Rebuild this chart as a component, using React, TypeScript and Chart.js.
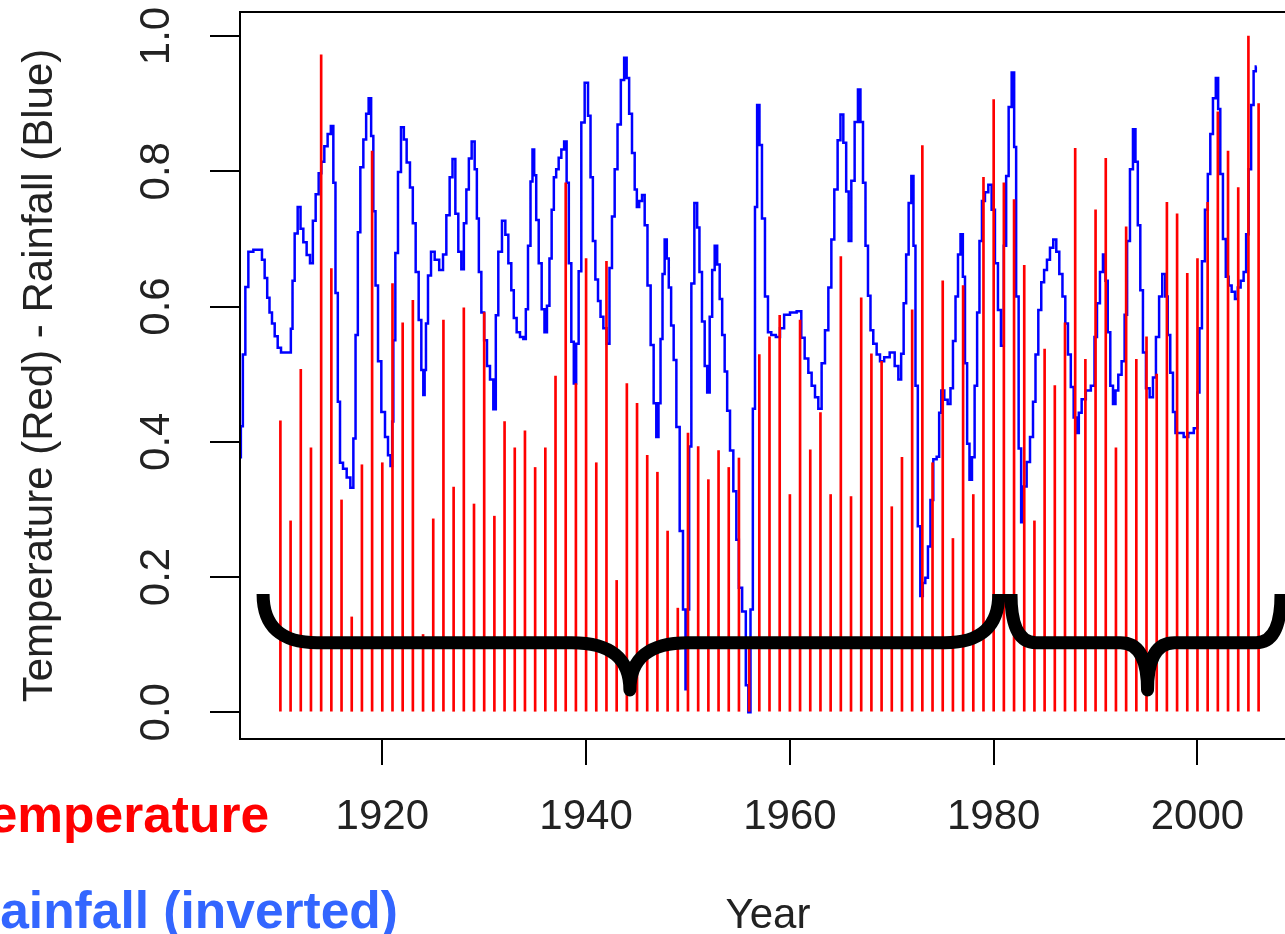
import React, { useEffect, useRef } from "react";
import { Chart, registerables } from "chart.js";

Chart.register(...registerables);

// ---------- data ----------
const barYears: number[] = [
  1910, 1911, 1912, 1913, 1914, 1915, 1916, 1917, 1918, 1919,
  1920, 1921, 1922, 1923, 1924, 1925, 1926, 1927, 1928, 1929,
  1930, 1931, 1932, 1933, 1934, 1935, 1936, 1937, 1938, 1939,
  1940, 1941, 1942, 1943, 1944, 1945, 1946, 1947, 1948, 1949,
  1950, 1951, 1952, 1953, 1954, 1955, 1956, 1957, 1958, 1959,
  1960, 1961, 1962, 1963, 1964, 1965, 1966, 1967, 1968, 1969,
  1970, 1971, 1972, 1973, 1974, 1975, 1976, 1977, 1978, 1979,
  1980, 1981, 1982, 1983, 1984, 1985, 1986, 1987, 1988, 1989,
  1990, 1991, 1992, 1993, 1994, 1995, 1996, 1997, 1998, 1999,
  2000, 2001, 2002, 2003, 2004, 2005, 2006,
];

const temperature: number[] = [
  0.431, 0.283, 0.507, 0.391, 0.972, 0.656, 0.314, 0.141, 0.366, 0.830,
  0.369, 0.634, 0.576, 0.609, 0.115, 0.286, 0.580, 0.333, 0.598, 0.308,
  0.591, 0.290, 0.430, 0.391, 0.416, 0.362, 0.391, 0.497, 0.783, 0.486,
  0.671, 0.369, 0.667, 0.195, 0.486, 0.457, 0.380, 0.355, 0.268, 0.154,
  0.413, 0.393, 0.344, 0.387, 0.362, 0.376, 0.100, 0.529, 0.555, 0.587,
  0.322, 0.580, 0.388, 0.443, 0.322, 0.674, 0.319, 0.613, 0.530, 0.519,
  0.304, 0.377, 0.595, 0.838, 0.369, 0.638, 0.257, 0.631, 0.322, 0.791,
  0.906, 0.783, 0.758, 0.661, 0.283, 0.537, 0.483, 0.576, 0.834, 0.522,
  0.743, 0.819, 0.391, 0.718, 0.522, 0.555, 0.500, 0.754, 0.737, 0.649,
  0.671, 0.754, 0.888, 0.830, 0.776, 1.000, 0.900,
];

const rainYears: number[] = [
  1906.04, 1906.20, 1906.43, 1906.69, 1907.02, 1907.67, 1908.06, 1908.32, 1908.59, 1908.82,
  1909.04, 1909.31, 1909.57, 1909.90, 1910.22, 1910.94, 1911.11, 1911.27, 1911.53, 1911.86,
  1912.09, 1912.41, 1912.74, 1913.07, 1913.30, 1913.62, 1913.89, 1914.15, 1914.47, 1914.80,
  1915.10, 1915.29, 1915.52, 1915.75, 1915.95, 1916.34, 1916.67, 1917.06, 1917.26, 1917.49,
  1917.71, 1917.98, 1918.30, 1918.53, 1918.79, 1919.02, 1919.22, 1919.45, 1919.71, 1920.10,
  1920.43, 1920.69, 1920.92, 1921.02, 1921.15, 1921.41, 1921.67, 1922.00, 1922.23, 1922.55,
  1922.88, 1923.11, 1923.44, 1923.70, 1923.96, 1924.09, 1924.22, 1924.35, 1924.62, 1924.94,
  1925.34, 1925.83, 1926.09, 1926.48, 1926.74, 1927.04, 1927.30, 1927.62, 1927.89, 1928.12,
  1928.38, 1928.61, 1928.93, 1929.20, 1929.36, 1929.59, 1929.85, 1930.14, 1930.41, 1930.73,
  1931.06, 1931.22, 1931.55, 1931.94, 1932.21, 1932.53, 1932.79, 1933.02, 1933.35, 1933.68,
  1934.00, 1934.17, 1934.43, 1934.66, 1934.82, 1934.99, 1935.22, 1935.48, 1935.80, 1936.03,
  1936.29, 1936.52, 1936.72, 1936.95, 1937.18, 1937.44, 1937.70, 1937.99, 1938.19, 1938.42,
  1938.68, 1938.91, 1939.14, 1939.40, 1939.66, 1940.06, 1940.32, 1940.55, 1940.78, 1941.04,
  1941.30, 1941.53, 1941.86, 1942.18, 1942.41, 1942.67, 1942.94, 1943.23, 1943.59, 1943.88,
  1944.08, 1944.37, 1944.64, 1944.90, 1945.06, 1945.36, 1945.62, 1945.88, 1946.17, 1946.50,
  1946.76, 1947.02, 1947.19, 1947.42, 1947.58, 1947.84, 1948.00, 1948.23, 1948.46, 1948.73,
  1948.99, 1949.38, 1949.64, 1949.87, 1950.03, 1950.20, 1950.46, 1950.79, 1951.01, 1951.24,
  1951.51, 1951.77, 1952.00, 1952.26, 1952.49, 1952.75, 1952.98, 1953.24, 1953.47, 1953.73,
  1953.96, 1954.29, 1954.61, 1954.88, 1955.10, 1955.53, 1955.82, 1956.02, 1956.25, 1956.48,
  1956.67, 1956.90, 1957.13, 1957.39, 1957.72, 1957.98, 1958.37, 1958.87, 1959.19, 1959.68,
  1960.34, 1960.99, 1961.25, 1961.65, 1961.97, 1962.30, 1962.63, 1962.95, 1963.28, 1963.61,
  1963.94, 1964.20, 1964.52, 1964.85, 1965.08, 1965.41, 1965.64, 1965.90, 1966.16, 1966.55,
  1966.81, 1967.04, 1967.31, 1967.53, 1967.80, 1968.02, 1968.35, 1968.68, 1969.01, 1969.50,
  1970.09, 1970.48, 1970.81, 1971.03, 1971.30, 1971.52, 1971.79, 1972.05, 1972.21, 1972.44,
  1972.67, 1972.93, 1973.16, 1973.42, 1973.68, 1973.91, 1974.24, 1974.57, 1974.73, 1974.99,
  1975.32, 1975.65, 1975.87, 1976.14, 1976.37, 1976.63, 1976.86, 1977.09, 1977.28, 1977.51,
  1977.74, 1978.00, 1978.26, 1978.49, 1978.72, 1978.98, 1979.31, 1979.64, 1979.96, 1980.29,
  1980.55, 1980.88, 1981.11, 1981.34, 1981.60, 1981.93, 1982.09, 1982.32, 1982.58, 1982.81,
  1983.07, 1983.40, 1983.73, 1983.99, 1984.22, 1984.54, 1984.80, 1985.10, 1985.36, 1985.69,
  1986.01, 1986.28, 1986.60, 1986.90, 1987.16, 1987.42, 1987.72, 1987.98, 1988.24, 1988.47,
  1988.80, 1989.29, 1989.78, 1990.01, 1990.27, 1990.59, 1990.86, 1991.08, 1991.31, 1991.58,
  1991.84, 1992.07, 1992.39, 1992.72, 1992.98, 1993.21, 1993.54, 1993.80, 1994.03, 1994.26,
  1994.52, 1994.78, 1995.11, 1995.50, 1995.76, 1996.09, 1996.38, 1996.71, 1996.97, 1997.20,
  1997.46, 1997.73, 1997.95, 1998.45, 1998.84, 1999.36, 1999.92, 2000.08, 2000.31, 2000.57,
  2000.90, 2001.13, 2001.39, 2001.65, 2001.95, 2002.11, 2002.37, 2002.63, 2002.93, 2003.19,
  2003.52, 2003.84, 2004.07, 2004.40, 2004.66, 2004.89, 2005.15, 2005.38, 2005.64, 2005.81,
];

const rainfallInverted: number[] = [
  0.377, 0.423, 0.529, 0.629, 0.681, 0.684, 0.684, 0.669, 0.642, 0.613,
  0.591, 0.575, 0.556, 0.539, 0.532, 0.532, 0.567, 0.638, 0.708, 0.747,
  0.715, 0.695, 0.676, 0.664, 0.727, 0.766, 0.797, 0.814, 0.837, 0.855,
  0.867, 0.783, 0.620, 0.459, 0.369, 0.360, 0.347, 0.332, 0.405, 0.558,
  0.710, 0.806, 0.847, 0.885, 0.908, 0.852, 0.741, 0.631, 0.519, 0.444,
  0.407, 0.380, 0.364, 0.430, 0.550, 0.679, 0.799, 0.865, 0.847, 0.813,
  0.776, 0.723, 0.651, 0.580, 0.506, 0.469, 0.506, 0.575, 0.646, 0.681,
  0.669, 0.654, 0.677, 0.735, 0.791, 0.818, 0.737, 0.681, 0.655, 0.723,
  0.773, 0.819, 0.844, 0.803, 0.730, 0.651, 0.591, 0.550, 0.512, 0.492,
  0.448, 0.587, 0.681, 0.727, 0.706, 0.664, 0.624, 0.583, 0.562, 0.555,
  0.552, 0.596, 0.690, 0.785, 0.832, 0.794, 0.728, 0.664, 0.596, 0.562,
  0.601, 0.671, 0.743, 0.791, 0.803, 0.820, 0.832, 0.844, 0.783, 0.664,
  0.548, 0.486, 0.545, 0.652, 0.872, 0.931, 0.882, 0.791, 0.697, 0.640,
  0.608, 0.585, 0.568, 0.545, 0.657, 0.733, 0.803, 0.869, 0.935, 0.968,
  0.938, 0.885, 0.827, 0.773, 0.747, 0.756, 0.765, 0.720, 0.631, 0.543,
  0.457, 0.407, 0.457, 0.552, 0.648, 0.699, 0.671, 0.628, 0.572, 0.521,
  0.422, 0.268, 0.152, 0.034, 0.152, 0.393, 0.634, 0.753, 0.717, 0.651,
  0.578, 0.512, 0.473, 0.585, 0.654, 0.690, 0.662, 0.611, 0.558, 0.504,
  0.446, 0.387, 0.327, 0.255, 0.184, 0.149, 0.040, 0.000, 0.152, 0.449,
  0.747, 0.898, 0.839, 0.730, 0.615, 0.562, 0.558, 0.555, 0.568, 0.588,
  0.591, 0.593, 0.554, 0.523, 0.502, 0.483, 0.466, 0.449, 0.516, 0.565,
  0.628, 0.699, 0.773, 0.846, 0.884, 0.842, 0.770, 0.697, 0.786, 0.873,
  0.921, 0.873, 0.783, 0.690, 0.616, 0.565, 0.545, 0.529, 0.519, 0.525,
  0.532, 0.512, 0.492, 0.530, 0.605, 0.677, 0.753, 0.793, 0.690, 0.483,
  0.275, 0.172, 0.191, 0.199, 0.245, 0.314, 0.374, 0.378, 0.443, 0.476,
  0.462, 0.456, 0.479, 0.549, 0.615, 0.677, 0.707, 0.644, 0.516, 0.397,
  0.344, 0.377, 0.483, 0.591, 0.697, 0.756, 0.769, 0.780, 0.743, 0.664,
  0.595, 0.542, 0.690, 0.793, 0.895, 0.946, 0.836, 0.615, 0.390, 0.281,
  0.334, 0.370, 0.407, 0.459, 0.529, 0.595, 0.636, 0.654, 0.669, 0.687,
  0.699, 0.681, 0.648, 0.615, 0.575, 0.529, 0.481, 0.436, 0.413, 0.443,
  0.463, 0.476, 0.483, 0.555, 0.605, 0.651, 0.677, 0.638, 0.562, 0.483,
  0.456, 0.476, 0.499, 0.519, 0.588, 0.697, 0.803, 0.862, 0.814, 0.720,
  0.624, 0.532, 0.479, 0.466, 0.495, 0.555, 0.615, 0.648, 0.615, 0.558,
  0.502, 0.444, 0.413, 0.413, 0.407, 0.413, 0.420, 0.473, 0.568, 0.667,
  0.743, 0.796, 0.855, 0.908, 0.938, 0.892, 0.796, 0.700, 0.644, 0.631,
  0.622, 0.611, 0.628, 0.638, 0.651, 0.707, 0.803, 0.898, 0.948, 0.955,
];

const yTickLabels: string[] = ["0.0", "0.2", "0.4", "0.6", "0.8", "1.0"];

// braces: [start year, tip year, end year]
const braceSpans: number[][] = [
  [1908.3, 1944.3, 1980.5],
  [1981.7, 1995.1, 2008.2],
];
const braceLevels = { top: 0.175, mid: 0.103, tip: 0.033 };

// ---------- style ----------
const FONT = '"Liberation Sans", Arial, Helvetica, sans-serif';
const TEXT_COLOR = "#222222";

const overlayPlugin = {
  id: "overlay",
  afterDatasetsDraw(chart: any) {
    const { ctx, scales } = chart;
    const xs = scales.x;
    const ys = scales.y;
    ctx.save();

    // braces
    ctx.strokeStyle = "#000";
    ctx.lineWidth = 13;
    ctx.lineCap = "butt";
    ctx.lineJoin = "round";
    const radii = [
      { outer: 54, inner: 58 },
      { outer: 25, inner: 27 },
    ];
    braceSpans.forEach((span, i) => {
      const x0 = xs.getPixelForValue(span[0]);
      const xt = xs.getPixelForValue(span[1]);
      const x1 = xs.getPixelForValue(span[2]);
      const yTop = ys.getPixelForValue(braceLevels.top);
      const yMid = ys.getPixelForValue(braceLevels.mid);
      const yTip = ys.getPixelForValue(braceLevels.tip);
      const R = radii[i].outer;
      const r = radii[i].inner;
      ctx.beginPath();
      ctx.moveTo(x0, yTop);
      ctx.quadraticCurveTo(x0, yMid, x0 + R, yMid);
      ctx.lineTo(xt - r, yMid);
      ctx.quadraticCurveTo(xt, yMid, xt, yTip);
      ctx.quadraticCurveTo(xt, yMid, xt + r, yMid);
      ctx.lineTo(x1 - R, yMid);
      ctx.quadraticCurveTo(x1, yMid, x1, yTop);
      ctx.stroke();
    });
    ctx.restore();
  },
  afterDraw(chart: any) {
    const { ctx, chartArea, scales } = chart;
    const ys = scales.y;
    ctx.save();
    // plot box
    ctx.strokeStyle = "#000";
    ctx.lineWidth = 2;
    ctx.strokeRect(
      chartArea.left,
      chartArea.top,
      chartArea.right - chartArea.left,
      chartArea.bottom - chartArea.top
    );

    // rotated y tick labels (R style, parallel to axis)
    ctx.fillStyle = TEXT_COLOR;
    ctx.font = `42px ${FONT}`;
    ctx.textAlign = "center";
    ctx.textBaseline = "middle";
    ys.ticks.forEach((t: any, i: number) => {
      const py = ys.getPixelForValue(t.value);
      ctx.save();
      ctx.translate(157, py);
      ctx.rotate(-Math.PI / 2);
      ctx.fillText(yTickLabels[i] ?? t.value.toFixed(1), 0, 0);
      ctx.restore();
    });

    // side annotations (clipped at the left edge as in the slide)
    ctx.textAlign = "left";
    ctx.textBaseline = "alphabetic";
    ctx.font = `bold 51.5px ${FONT}`;
    ctx.fillStyle = "#FF0000";
    ctx.fillText("Temperature", -39, 832);
    ctx.fillStyle = "#3366FF";
    ctx.fillText("Rainfall (inverted)", -37, 928);
    ctx.restore();
  },
};

export default function App() {
  const canvasRef = useRef<HTMLCanvasElement | null>(null);

  useEffect(() => {
    const canvas = canvasRef.current;
    if (!canvas) return;
    const chart = new Chart(canvas, {
      type: "line",
      data: {
        datasets: [
          {
            type: "bar",
            label: "Temperature",
            data: barYears.map((x, i) => ({ x, y: temperature[i] })),
            backgroundColor: "#FF0000",
            borderWidth: 0,
            barThickness: 2,
            order: 0,
          } as any,
          {
            type: "line",
            label: "Rainfall (inverted)",
            data: rainYears.map((x, i) => ({ x, y: rainfallInverted[i] })),
            borderColor: "#0000FF",
            borderWidth: 2.5,
            pointRadius: 0,
            fill: false,
            tension: 0,
            stepped: "middle",
            order: 1,
          } as any,
        ],
      },
      options: {
        animation: false,
        responsive: false,
        devicePixelRatio: 1,
        layout: { padding: { left: 0, right: 20, top: 12, bottom: 0 } },
        plugins: {
          legend: { display: false },
          tooltip: { enabled: false },
        },
        scales: {
          x: {
            type: "linear",
            min: 1906.035,
            max: 2009.67,
            offset: false,
            border: { display: false },
            grid: {
              display: true,
              drawOnChartArea: false,
              drawTicks: true,
              tickLength: 26,
              color: "#000",
              lineWidth: 2,
              offset: false,
            },
            ticks: {
              stepSize: 20,
              includeBounds: false,
              autoSkip: false,
              maxRotation: 0,
              minRotation: 0,
              padding: 31,
              color: TEXT_COLOR,
              font: { family: FONT, size: 42, lineHeight: 1 },
              callback: (v: any) => String(v),
            },
            title: {
              display: true,
              text: "Year",
              color: TEXT_COLOR,
              font: { family: FONT, size: 42, lineHeight: 1 },
              padding: { top: 0, bottom: -3 },
            },
            afterFit: (s: any) => {
              s.height = 195;
            },
          } as any,
          y: {
            type: "linear",
            min: -0.0395,
            max: 1.0355,
            border: { display: false },
            grid: {
              display: true,
              drawOnChartArea: false,
              drawTicks: true,
              tickLength: 30,
              color: "#000",
              lineWidth: 2,
            },
            ticks: {
              stepSize: 0.2,
              includeBounds: false,
              display: false,
            },
            title: {
              display: true,
              text: "Temperature (Red) - Rainfall (Blue)",
              color: TEXT_COLOR,
              font: { family: FONT, size: 42, lineHeight: 1 },
              padding: { top: 19, bottom: 0 },
            },
            afterFit: (s: any) => {
              s.width = 240;
            },
          } as any,
        },
      },
      plugins: [overlayPlugin],
    });
    return () => chart.destroy();
  }, []);

  return (
    <div
      style={{
        position: "absolute",
        left: 0,
        top: 0,
        width: 1285,
        height: 934,
        overflow: "hidden",
        background: "#fff",
      }}
    >
      <canvas
        ref={canvasRef}
        width={1316}
        height={934}
        style={{ width: 1316, height: 934, display: "block" }}
      />
    </div>
  );
}
